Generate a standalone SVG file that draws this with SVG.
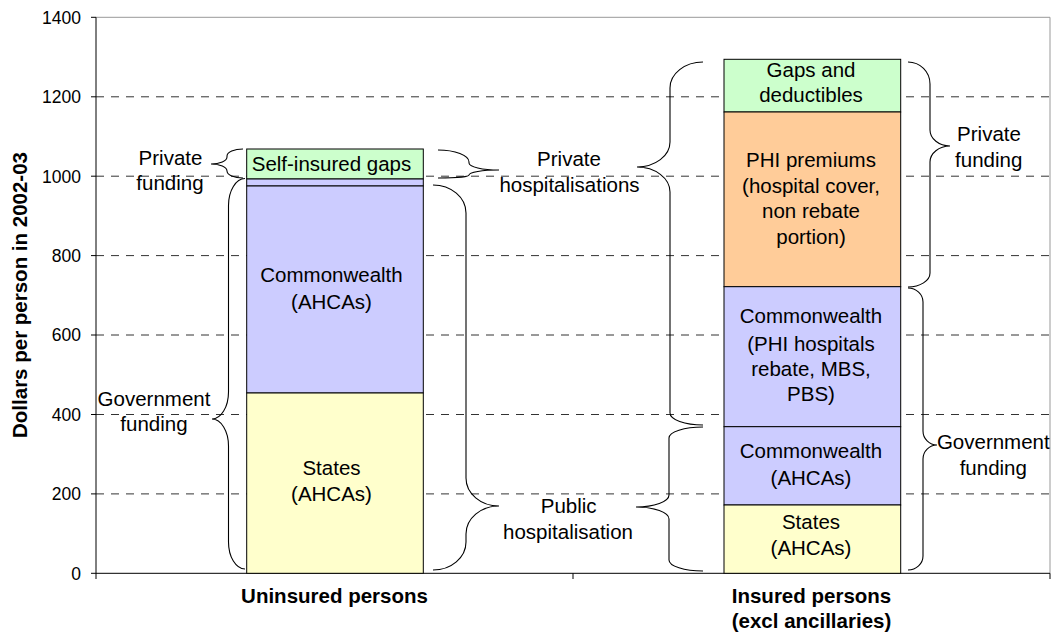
<svg xmlns="http://www.w3.org/2000/svg" width="1053" height="644" viewBox="0 0 1053 644">
<style>
text{font-family:"Liberation Sans",Arial,sans-serif;fill:#000}
.lbl{font-size:20.5px;text-anchor:middle}
.tick{font-size:17.5px;text-anchor:end}
.bold{font-size:20.5px;font-weight:bold;text-anchor:middle}
.grid{stroke:#333;stroke-width:1;stroke-dasharray:8,7;fill:none}
.seg{stroke:#000;stroke-width:1}
.brace{fill:none;stroke:#000;stroke-width:1.1}
.green{fill:#CCFFCC}.blue{fill:#CCCCFF}.yellow{fill:#FFFFCC}.orange{fill:#FFCC99}
</style>
<rect x="0" y="0" width="1053" height="644" fill="#fff"/>
<g id="plot-frame">
<path d="M96,17.3 H1050 V573.3" fill="none" stroke="#999" stroke-width="1"/>
</g>
<g id="gridlines">
<line class="grid" x1="96" y1="96.8" x2="1050" y2="96.8"/>
<line class="grid" x1="96" y1="176.2" x2="1050" y2="176.2"/>
<line class="grid" x1="96" y1="255.6" x2="1050" y2="255.6"/>
<line class="grid" x1="96" y1="335" x2="1050" y2="335"/>
<line class="grid" x1="96" y1="414.5" x2="1050" y2="414.5"/>
<line class="grid" x1="96" y1="493.9" x2="1050" y2="493.9"/>
</g>
<g id="axes" stroke="#000" stroke-width="1" fill="none">
<path d="M96,17.3 V579 M96,573.3 H1050 M573,573.3 V579 M1050,573.3 V579"/>
<path d="M91,17.3 H96 M91,96.8 H96 M91,176.2 H96 M91,255.6 H96 M91,335 H96 M91,414.5 H96 M91,493.9 H96 M91,573.3 H96"/>
</g>
<g id="tick-labels">
<text class="tick" x="81" y="23.6">1400</text>
<text class="tick" x="81" y="103.1">1200</text>
<text class="tick" x="81" y="182.5">1000</text>
<text class="tick" x="81" y="261.9">800</text>
<text class="tick" x="81" y="341.3">600</text>
<text class="tick" x="81" y="420.8">400</text>
<text class="tick" x="81" y="500.2">200</text>
<text class="tick" x="81" y="579.6">0</text>
</g>
<g id="axis-title">
<text class="bold" transform="translate(27,295) rotate(-90)">Dollars per person in 2002-03</text>
</g>
<g id="category-labels">
<text class="bold" x="334.5" y="603.3">Uninsured persons</text>
<text class="bold" x="811.5" y="603.3">Insured persons</text>
<text class="bold" x="811.5" y="627.5">(excl ancillaries)</text>
</g>
<g id="uninsured-self-insured-gaps">
<rect class="seg green" x="246.7" y="149" width="176.6" height="30"/>
<text class="lbl" x="331.5" y="170.7">Self-insured gaps</text>
</g>
<g id="uninsured-commonwealth-other">
<rect class="seg blue" x="246.7" y="179" width="176.6" height="7"/>
</g>
<g id="uninsured-commonwealth-ahcas">
<rect class="seg blue" x="246.7" y="186" width="176.6" height="207"/>
<text class="lbl" x="331.5" y="282.3">Commonwealth</text>
<text class="lbl" x="331.5" y="308.7">(AHCAs)</text>
</g>
<g id="uninsured-states-ahcas">
<rect class="seg yellow" x="246.7" y="393" width="176.6" height="180.3"/>
<text class="lbl" x="331.5" y="475">States</text>
<text class="lbl" x="331.5" y="500.7">(AHCAs)</text>
</g>
<g id="insured-gaps-deductibles">
<rect class="seg green" x="724" y="59.3" width="176.7" height="52.7"/>
<text class="lbl" x="811" y="77.3">Gaps and</text>
<text class="lbl" x="811" y="102.3">deductibles</text>
</g>
<g id="insured-phi-premiums">
<rect class="seg orange" x="724" y="112" width="176.7" height="174.7"/>
<text class="lbl" x="811" y="166.7">PHI premiums</text>
<text class="lbl" x="811" y="192.5">(hospital cover,</text>
<text class="lbl" x="811" y="218.3">non rebate</text>
<text class="lbl" x="811" y="243.5">portion)</text>
</g>
<g id="insured-commonwealth-phi">
<rect class="seg blue" x="724" y="286.7" width="176.7" height="140"/>
<text class="lbl" x="811" y="323.3">Commonwealth</text>
<text class="lbl" x="811" y="350.5">(PHI hospitals</text>
<text class="lbl" x="811" y="376">rebate, MBS,</text>
<text class="lbl" x="811" y="400.7">PBS)</text>
</g>
<g id="insured-commonwealth-ahcas">
<rect class="seg blue" x="724" y="426.7" width="176.7" height="78.3"/>
<text class="lbl" x="811" y="458.3">Commonwealth</text>
<text class="lbl" x="811" y="485">(AHCAs)</text>
</g>
<g id="insured-states-ahcas">
<rect class="seg yellow" x="724" y="505" width="176.7" height="68.3"/>
<text class="lbl" x="811" y="529.3">States</text>
<text class="lbl" x="811" y="555">(AHCAs)</text>
</g>
<g id="label-private-funding-left">
<text class="lbl" x="170.5" y="165">Private</text>
<text class="lbl" x="170" y="190">funding</text>
</g>
<g id="label-government-funding-left">
<text class="lbl" x="154" y="406">Government</text>
<text class="lbl" x="154" y="430.7">funding</text>
</g>
<g id="label-private-hospitalisations">
<text class="lbl" x="569" y="165.7">Private</text>
<text class="lbl" x="569.5" y="191.7">hospitalisations</text>
</g>
<g id="label-public-hospitalisation">
<text class="lbl" x="568.7" y="513.3">Public</text>
<text class="lbl" x="568" y="539.3">hospitalisation</text>
</g>
<g id="label-private-funding-right">
<text class="lbl" x="989" y="141">Private</text>
<text class="lbl" x="988.7" y="166.7">funding</text>
</g>
<g id="label-government-funding-right">
<text class="lbl" x="993.3" y="449">Government</text>
<text class="lbl" x="993.3" y="475">funding</text>
</g>
<g id="connectors">
<path class="brace" d="M243,149 C234.2,149 227,152.1 227,156 L227,157 C227,160.9 219.8,164 211,164 C219.8,164 227,167.1 227,171 C227,174.9 234.2,178 243,178"/>
<path class="brace" d="M245,178.5 C235.9,178.5 228.5,190.6 228.5,205.5 L228.5,392 C228.5,406.9 221.1,419 212,419 C221.1,419 228.5,431.1 228.5,446 L228.5,542 C228.5,556.9 235.9,569 245,569"/>
<path class="brace" d="M438,150 C455.1,150 469,155.4 469,162 L469,163 C469,166.9 482.4,170 499,170 C482.4,170 469,172.2 469,175 C469,176.7 455.1,178 438,178"/>
<path class="brace" d="M433,185 C451.2,185 466,197.5 466,213 L466,478 C466,493.5 480.8,506 499,506 C480.8,506 466,518.5 466,534 L466,542 C466,557.5 451.2,570 433,570"/>
<path class="brace" d="M703,62 C684.8,62 670,73.6 670,88 L670,142 C670,155.8 655.2,167 637,167 C655.2,167 670,178.2 670,192 L670,413 C670,419.6 684.8,425 703,425"/>
<path class="brace" d="M703,427 C684.2,427 669,431.9 669,438 L669,495 C669,501.6 654.2,507 636,507 C654.2,507 669,512.4 669,519 L669,560 C669,566.1 684.2,571 703,571"/>
<path class="brace" d="M908,62 C920.1,62 930,71.9 930,84 L930,130 C930,138.8 939,146 950,146 C939,146 930,153.2 930,162 L930,273 C930,280.7 920.1,287 908,287"/>
<path class="brace" d="M908,288 C916.3,288 923,294.3 923,302 L923,431 C923,438.7 929.3,445 937,445 C929.3,445 923,451.3 923,459 L923,556 C923,563.7 916.3,570 908,570"/>
</g>
</svg>
